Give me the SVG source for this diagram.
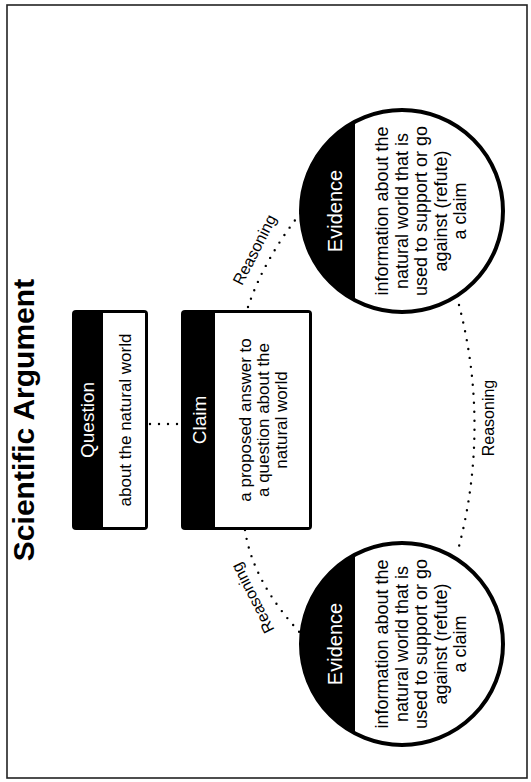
<svg xmlns="http://www.w3.org/2000/svg" width="531" height="782" viewBox="0 0 531 782">
<style>
  text { font-family: "Liberation Sans", Arial, sans-serif; text-anchor: middle; }
  .title { font-size: 30px; font-weight: bold; fill: #000; }
  .hdr { font-size: 19px; fill: #fff; }
  .hdr-ev { font-size: 20px; fill: #fff; }
  .body { font-size: 17px; fill: #000; }
  .cbody { font-size: 18px; fill: #000; }
  .lbl { font-size: 16px; fill: #000; }
  .dots { fill: none; stroke: #000; stroke-width: 2.4; stroke-linecap: round; stroke-dasharray: 0 9; }
  .ring { fill: none; stroke: #000; stroke-width: 4; }
</style>
<rect x="0" y="0" width="531" height="782" fill="#fff"/>
<rect x="7" y="5" width="520" height="773" fill="none" stroke="#222" stroke-width="1.6"/>
<g transform="translate(0,782) rotate(-90)">
  <text id="title" class="title" x="362" y="34">Scientific Argument</text>

  <g id="connectors">
    <path class="dots" d="M358,150 L358,180"/>
    <path class="dots" d="M475,248 Q526,265 577,307"/>
    <path class="dots" d="M252,245 Q198,253 144,305"/>
    <path class="dots" d="M477,459 A477,477 0 0 1 232,458"/>
    <text class="lbl" transform="translate(532,255) rotate(27)" y="5">Reasoning</text>
    <text class="lbl" transform="translate(184,253) rotate(-27)" y="5">Reasoning</text>
    <text class="lbl" x="364" y="494">Reasoning</text>
  </g>

  <g id="question">
    <rect x="252" y="72" width="220" height="76" rx="4" fill="#000"/>
    <rect x="255" y="103" width="214" height="42" fill="#fff"/>
    <text class="hdr" x="362" y="94">Question</text>
    <text class="body" x="362" y="131">about the natural world</text>
  </g>

  <g id="claim">
    <rect x="252" y="181" width="220" height="131" rx="4" fill="#000"/>
    <rect x="255" y="215" width="214" height="94" fill="#fff"/>
    <text class="hdr" x="362" y="206">Claim</text>
    <text class="body" x="362" y="251">a proposed answer to</text>
    <text class="body" x="362" y="269">a question about the</text>
    <text class="body" x="362" y="287">natural world</text>
  </g>

  <g id="evidence-right">
    <circle cx="571" cy="402" r="101" fill="#fff"/>
    <path d="M481.6,355 A101,101 0 0 1 660.4,355 Z" fill="#000"/>
    <circle class="ring" cx="571" cy="402" r="101"/>
    <text class="hdr-ev" x="571" y="342">Evidence</text>
    <text class="cbody" x="571" y="388">information about the</text>
    <text class="cbody" x="571" y="407.5">natural world that is</text>
    <text class="cbody" x="571" y="427">used to support or go</text>
    <text class="cbody" x="571" y="446.5">against (refute)</text>
    <text class="cbody" x="571" y="466">a claim</text>
  </g>

  <g id="evidence-left">
    <circle cx="138" cy="402" r="101" fill="#fff"/>
    <path d="M48.6,355 A101,101 0 0 1 227.4,355 Z" fill="#000"/>
    <circle class="ring" cx="138" cy="402" r="101"/>
    <text class="hdr-ev" x="138" y="342">Evidence</text>
    <text class="cbody" x="138" y="388">information about the</text>
    <text class="cbody" x="138" y="407.5">natural world that is</text>
    <text class="cbody" x="138" y="427">used to support or go</text>
    <text class="cbody" x="138" y="446.5">against (refute)</text>
    <text class="cbody" x="138" y="466">a claim</text>
  </g>
</g>
</svg>
